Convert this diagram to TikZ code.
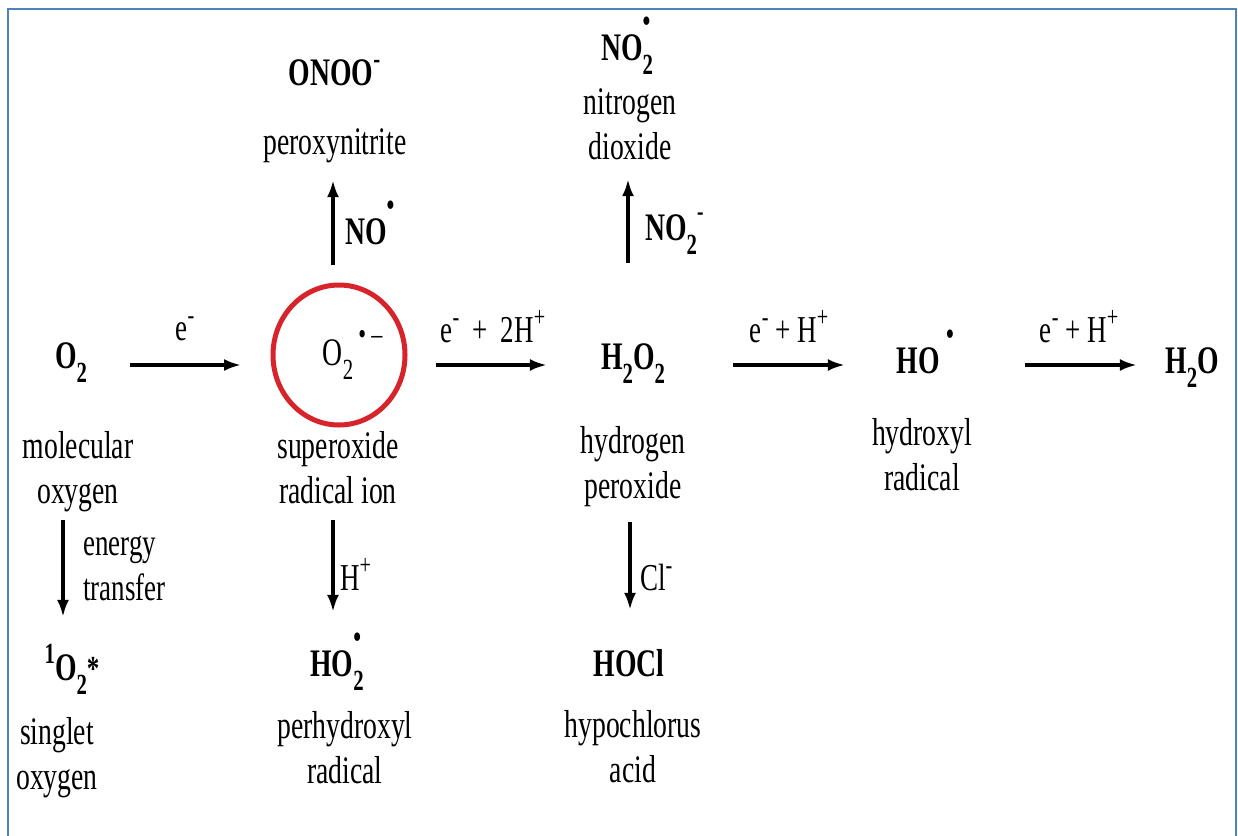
\documentclass[tikz,border=0pt]{standalone}
\usepackage{fontspec}
\setmainfont{Liberation Serif}[FakeStretch=0.71]
\usetikzlibrary{arrows.meta,shapes.geometric}
\definecolor{frameblue}{RGB}{79,129,189}
\definecolor{circred}{RGB}{214,36,42}
\newcommand\chsub[1]{\raisebox{-0.36em}{\scalebox{0.75}{#1}}}
\newcommand\chsup[1]{\raisebox{0.42em}{\scalebox{0.75}{#1}}}
\newcommand\rdot{\raisebox{0.72em}{\scalebox{0.8}{\textbullet}}}
\newcommand\zw[1]{\makebox[0pt][l]{#1}}
\newcommand\zwl[1]{\makebox[0pt][r]{#1}}
\tikzset{
  chem/.style={font=\fontsize{39}{45}\selectfont\bfseries, inner sep=0pt, minimum width=80pt, text height=28pt, text depth=10pt, anchor=base},
  lbl/.style={font=\fontsize{39}{45}\selectfont, align=center, inner sep=0pt, anchor=base},
  alb/.style={font=\fontsize{38}{45}\selectfont, inner sep=0pt, anchor=base},
  blb/.style={font=\fontsize{39}{45}\selectfont\bfseries, inner sep=0pt, anchor=base west},
  arr/.style={line width=3.2pt, -{Latex[length=17pt,width=12pt]}},
  ring/.style={ellipse, draw=circred, line width=5pt, inner sep=0pt, minimum width=132pt, minimum height=140pt},
}
\begin{document}
\begin{tikzpicture}[x=1pt,y=-1pt]
\useasboundingbox (0,0) rectangle (1238,835);
\draw[frameblue, line width=2.5pt] (8,836) -- (8,9) -- (1236,9) -- (1236,836);
\coordinate (ax) at (0,365);

% main species
\node[chem] (o2) at (71,368) {O\chsub{2}};
\node[ring] (circ) at (339,355) {};
\node[chem, font=\fontsize{39}{45}\selectfont] (sup) at (338,365) {O\chsub{2}\zw{\raisebox{0.52em}{\scalebox{0.8}{\,\textbullet\,–}}}};
\node[chem] (h2o2) at (633,369) {H\chsub{2}O\chsub{2}};
\node[chem] (ho) at (918,373) {HO\zw{\,\rdot}};
\node[chem] (h2o) at (1192,373) {H\chsub{2}O};
\node[chem] (onoo) at (331,85) {ONOO\zw{\chsup{-}}};
\node[chem] (no2) at (627,60) {NO\zw{\rdot}\chsub{2}};
\node[chem] (so) at (71,680) {\zwl{\chsup{1}}O\chsub{2}\zw{\scalebox{0.9}{*}}};
\node[chem] (ho2) at (337,676) {HO\zw{\rdot}\chsub{2}};
\node[chem] (hocl) at (629,676) {HOCl};

% names (base = last line)
\node[lbl] (mo) at (78,503) {molecular\\oxygen};
\node[lbl] (si) at (57,789) {singlet\\oxygen};
\node[lbl] (sr) at (338,503) {superoxide\\radical ion};
\node[lbl] (ph) at (345,783) {perhydroxyl\\radical};
\node[lbl] (px) at (335,154) {peroxynitrite};
\node[lbl] (hp) at (633,498) {hydrogen\\peroxide};
\node[lbl] (hc) at (633,782) {hypochlorus\\acid};
\node[lbl] (nd) at (630,159) {nitrogen\\dioxide};
\node[lbl] (hy) at (922,490) {hydroxyl\\radical};

% arrow labels
\node[alb] (l1) at (185,340) {e\chsup{-}};
\node[alb] (l2) at (493,342) {e\chsup{-}\ \,+\ \,2H\chsup{+}};
\node[alb] (l3) at (789,342) {e\chsup{-}\ +\ H\chsup{+}};
\node[alb] (l4) at (1079,342) {e\chsup{-}\ +\ H\chsup{+}};
\node[alb, anchor=base west, align=left] (et) at (83,600) {energy\\transfer};
\node[alb, anchor=base west] (lh) at (340,590) {H\chsup{+}};
\node[alb, anchor=base west] (lc) at (640,590) {Cl\chsup{-}};
\node[blb] (lno) at (345,244) {NO\zw{\rdot}};
\node[blb] (lno2) at (645,240) {NO\chsub{2}\raisebox{0.5em}{\scalebox{0.7}{-}}};

% horizontal arrows
\draw[arr, shorten <=19pt, shorten >=29.5pt] (o2.east |- ax) -- (circ.west |- ax);
\draw[arr, shorten <=28.5pt, shorten >=46pt] (circ.east |- ax) -- (h2o2.west |- ax);
\draw[arr, shorten <=60pt, shorten >=33pt] (h2o2.east |- ax) -- (ho.west |- ax);
\draw[arr, shorten <=67pt, shorten >=15pt] (ho.east |- ax) -- (h2o.west |- ax);

% vertical arrows
\draw[arr, shorten <=142pt, shorten >=35pt] ([xshift=-8pt]o2.south) -- ([xshift=-8pt]so.north);
\draw[arr, shorten <=92.5pt, shorten >=36pt] ([xshift=-6pt]circ.south) -- ([xshift=-4pt]ho2.north);
\draw[arr, shorten <=143pt, shorten >=38pt] ([xshift=-3pt]h2o2.south) -- ([xshift=1pt]hocl.north);
\draw[arr, shorten <=17.5pt, shorten >=85pt] ([xshift=-6pt]circ.north) -- ([xshift=2pt]onoo.south);
\draw[arr, shorten <=78pt, shorten >=109pt] ([xshift=-5pt]h2o2.north) -- ([xshift=1pt]no2.south);
\end{tikzpicture}
\end{document}
